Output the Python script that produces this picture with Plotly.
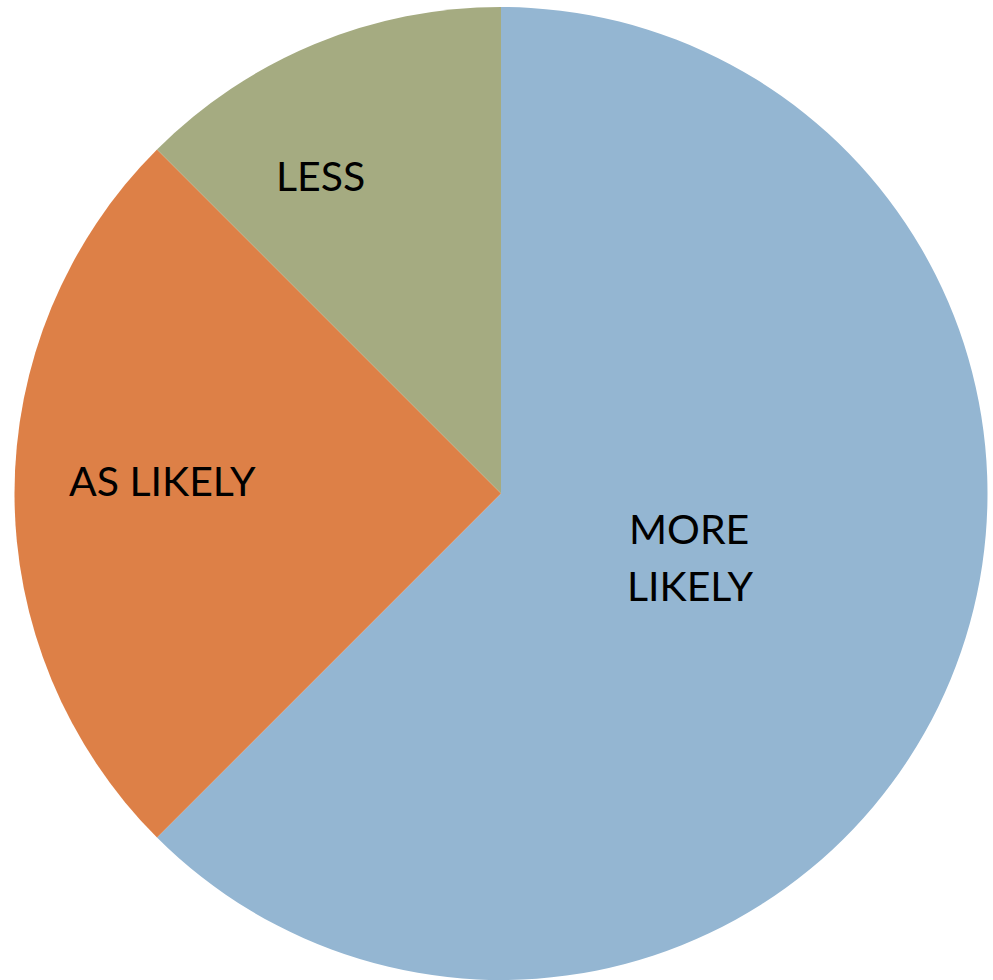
import plotly.graph_objects as go

labels = ["MORE LIKELY", "AS LIKELY", "LESS"]
values = [62.5, 25.0, 12.5]
colors = ["#94B6D2", "#DD8047", "#A5AB81"]

# label lines (text) per slice
label_lines = [["MORE", "LIKELY"], ["AS LIKELY"], ["LESS"]]

fig = go.Figure(go.Pie(
    labels=labels,
    values=values,
    textinfo="none",
    sort=False,
    direction="clockwise",
    rotation=0,
    marker=dict(colors=colors, line=dict(width=0)),
    domain=dict(x=[14/993, 988/993], y=[0, 1 - 7/980]),
    showlegend=False,
    hoverinfo="label+percent",
))

W, H = 993, 980
# label placement (pixel centers in the figure)
label_pos = [[(689, 528), (690, 585)], [(162, 480)], [(320, 176)]]

for lines, poss in zip(label_lines, label_pos):
    for txt, (px, py) in zip(lines, poss):
        fig.add_annotation(
            x=px / W, y=1 - py / H, xref="paper", yref="paper",
            text=txt, showarrow=False, xanchor="center", yanchor="middle",
            font=dict(family="Lato", size=41, color="#000000"),
        )

fig.update_layout(
    width=W, height=H,
    margin=dict(l=0, r=0, t=0, b=0),
    paper_bgcolor="white",
)

fig.write_html("out.html")
